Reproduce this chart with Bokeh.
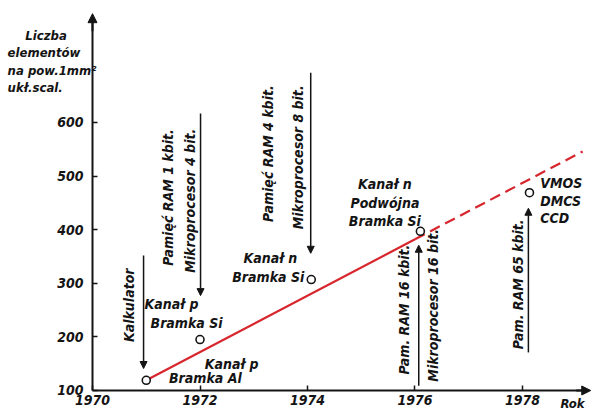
from bokeh.plotting import figure
from bokeh.models import Arrow, NormalHead, FixedTicker, ColumnDataSource, Range1d
from bokeh.embed import file_html
from bokeh.resources import INLINE
from bokeh.core.properties import value

FONT = "DejaVu Sans Condensed, Roboto, sans-serif"
INK = "#141414"
RED = "#d7262d"

# ---- data ----
x_ticks = [1970, 1972, 1974, 1976, 1978]
y_ticks = [100, 200, 300, 400, 500, 600]

trend_years_solid = [1971, 1976]
trend_vals_solid = [119, 382]
trend_years_dash = [1976, 1979.12]
trend_vals_dash = [382, 546]

point_years = [1971.0, 1972.0, 1974.07, 1976.1, 1978.13]
point_vals = [119, 195, 307, 397, 469]

# milestone arrows
ms_x = [1970.95, 1972.01, 1974.06, 1976.07, 1978.11]
ms_from = [352, 617, 693, 109, 171]
ms_to = [141, 277, 356, 371, 440]

# rotated milestone texts
rot_text = ["Kalkulator", "Pamięć RAM 1 kbit.", "Mikroprocesor 4 bit.",
            "Pamięć RAM 4 kbit.", "Mikroprocesor 8 bit.",
            "Pam. RAM 16 kbit.", "Mikroprocesor 16 bit.", "Pam. RAM 65 kbit."]
rot_x = [1970.67, 1971.40, 1971.82, 1973.27, 1973.83, 1975.79, 1976.34, 1977.91]
rot_y = [259, 460, 454, 542, 535, 251, 259, 298]

# technology texts near points (centered)
tech_text = ["Kanał p", "Bramka Al", "Kanał p", "Bramka Si", "Kanał n", "Bramka Si",
             "Kanał n", "Podwójna", "Bramka Si"]
tech_x = [1972.59, 1972.10, 1971.47, 1971.75, 1973.31, 1973.27, 1975.44, 1975.44, 1975.44]
tech_y = [150, 124, 262, 225, 348, 311, 486, 449, 417]

# left-aligned texts
tech2_text = ["VMOS", "DMCS", "CCD"]
tech2_x = [1978.33, 1978.33, 1978.33]
tech2_y = [488, 454, 421]

ytitle_lines = ["Liczba", "elementów", "na pow.1mm²", "ukł.scal."]
ytitle_x = [1968.75, 1968.42, 1968.42, 1968.42]
ytitle_y = [762, 731, 697, 665]

xunit_text = ["Rok"]
xunit_x = [1978.93]
xunit_y = [76]

# ---- figure ----
p = figure(width=594, height=411, output_backend="svg", toolbar_location=None,
           x_range=Range1d(1968.288, 1979.340), y_range=Range1d(60.8, 827.6),
           min_border=0)
p.outline_line_color = None
p.grid.visible = False
p.background_fill_color = "white"

for ax in (p.xaxis, p.yaxis):
    ax.axis_line_width = 2
    ax.axis_line_color = INK
    ax.major_tick_line_color = INK
    ax.major_tick_line_width = 1.5
    ax.major_tick_in = 5
    ax.major_tick_out = 0
    ax.minor_tick_line_color = None
    ax.major_label_text_font = FONT
    ax.major_label_text_font_style = "bold italic"
    ax.major_label_text_font_size = "14px"
    ax.major_label_text_color = INK
p.xaxis.ticker = FixedTicker(ticks=x_ticks)
p.yaxis.ticker = FixedTicker(ticks=y_ticks)
p.xaxis.fixed_location = 100
p.yaxis.fixed_location = 1970
p.xaxis.bounds = (1970, 1979.2)
p.yaxis.bounds = (100, 790)
p.xaxis.major_label_standoff = 5
p.yaxis.major_label_standoff = 9

# axis arrow heads
p.add_layout(Arrow(end=NormalHead(size=9, fill_color=INK, line_color=INK),
                   x_start=1970, y_start=770, x_end=1970, y_end=803,
                   line_width=2, line_color=INK))
p.add_layout(Arrow(end=NormalHead(size=9, fill_color=INK, line_color=INK),
                   x_start=1979.0, y_start=100, x_end=1979.27, y_end=100,
                   line_width=2, line_color=INK))

# trend line
p.line(trend_years_solid, trend_vals_solid, line_color=RED, line_width=2.2)
p.line(trend_years_dash, trend_vals_dash, line_color=RED, line_width=2.2, line_dash="11 6")

# points
p.scatter(point_years, point_vals, size=8, marker="circle", fill_color="white",
          line_color=INK, line_width=1.6)

# milestone arrows
ms_src = ColumnDataSource(dict(x=ms_x, y0=ms_from, y1=ms_to))
p.add_layout(Arrow(end=NormalHead(size=7, fill_color=INK, line_color=INK),
                   x_start="x", y_start="y0", x_end="x", y_end="y1",
                   line_width=1.5, line_color=INK, source=ms_src))

txt = dict(text_font=value(FONT), text_font_style="bold italic", text_font_size="14px",
           text_color=INK, text_baseline="middle")

p.text(rot_x, rot_y, text=rot_text, angle=90, angle_units="deg", text_align="center", **txt)
p.text(tech_x, tech_y, text=tech_text, text_align="center", **txt)
p.text(tech2_x, tech2_y, text=tech2_text, text_align="left", **txt)

txt13 = dict(txt, text_font_size="13px")
p.text(ytitle_x, ytitle_y, text=ytitle_lines, text_align="left", **txt13)
p.text(xunit_x, xunit_y, text=xunit_text, text_align="center", **txt13)

open("out.html", "w").write(file_html(p, INLINE))
